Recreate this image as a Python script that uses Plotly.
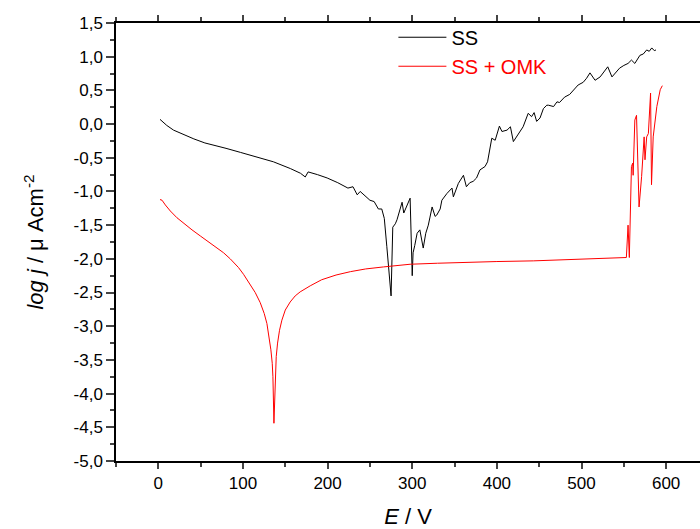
import plotly.graph_objects as go

# SS (black) curve
ss_E = [2, 10, 18, 30, 42, 55, 65, 80, 97, 115, 136, 156, 168, 173.6, 177, 188, 199.5, 212, 224, 230, 235,
        238.5, 244, 250, 255, 260, 264, 267, 270, 273, 275, 277, 280, 282, 285, 288, 290, 294, 297.5, 300,
        301, 303, 305.8, 309, 313, 316, 319, 321, 323.5, 327, 329, 333, 335, 341, 347, 348.6, 354.5, 360.5,
        364, 368, 372, 376, 380, 386, 389, 394, 398, 403, 406, 412, 416, 419.5, 425, 431, 437, 441, 444, 447,
        451, 455, 459, 461, 467, 471, 474, 480, 486, 490, 496, 502, 506, 510, 516, 522, 527, 531, 536, 540,
        545, 550, 555, 559, 563, 569, 573, 577, 580, 583, 586, 588]
ss_logj = [0.07, -0.02, -0.09, -0.16, -0.22, -0.28, -0.31, -0.36, -0.42, -0.48, -0.56, -0.66, -0.73, -0.785, -0.71, -0.75, -0.80, -0.87, -0.95, -0.93, -1.05,
           -1.00, -1.06, -1.13, -1.15, -1.26, -1.26, -1.40, -1.82, -2.20, -2.55, -1.53, -1.48, -1.42, -1.28, -1.16, -1.32, -1.20, -1.10, -2.25,
           -1.91, -1.80, -1.62, -1.57, -1.84, -1.62, -1.50, -1.38, -1.23, -1.37, -1.35, -1.26, -1.13, -1.03, -0.95, -1.08, -0.88, -0.76,
           -0.93, -0.87, -0.85, -0.80, -0.68, -0.63, -0.56, -0.21, -0.24, -0.03, -0.11, -0.09, -0.04, -0.26, -0.16, -0.04, 0.16, 0.11, 0.17, 0.04,
           0.09, 0.23, 0.28, 0.28, 0.26, 0.33, 0.32, 0.40, 0.44, 0.50, 0.58, 0.62, 0.68, 0.76, 0.65, 0.70, 0.78, 0.85, 0.70, 0.76,
           0.83, 0.87, 0.90, 0.95, 0.90, 1.02, 1.04, 1.10, 1.08, 1.13, 1.09, 1.10]

# SS + OMK (red) curve
omk_E = [2, 4.4, 8.3, 14.2, 22, 29.9, 39.8, 49.6, 59.4, 69.3, 77.1, 85, 90.9, 94.8, 100.7, 108.6, 114.5,
         120.4, 125.1, 128.3, 131, 133, 134.6, 135.4, 136.6, 137.3, 138.1, 139.3, 140.9, 143.2, 146, 150,
         155.8, 161.7, 167.6, 173.5, 179.5, 193, 210, 227, 245, 266, 297.5, 330, 364, 400, 443, 480, 522,
         545, 553, 555, 556.5, 559, 560.5, 561, 563, 565, 568, 571, 574, 575, 577, 579, 581.6, 582.7, 584.7,
         589, 593, 595.5]
omk_logj = [-1.12, -1.13, -1.20, -1.29, -1.39, -1.475, -1.57, -1.66, -1.745, -1.83, -1.91, -2.00, -2.07, -2.13, -2.23, -2.38, -2.50,
            -2.65, -2.81, -2.96, -3.15, -3.35, -3.55, -3.75, -4.44, -4.14, -3.75, -3.45, -3.25, -3.06, -2.91, -2.76,
            -2.64, -2.55, -2.49, -2.44, -2.40, -2.31, -2.24, -2.19, -2.15, -2.12, -2.08, -2.065, -2.05, -2.04, -2.03, -2.015, -2.00,
            -1.99, -1.98, -1.50, -1.98, -0.63, -0.58, -0.76, 0.06, 0.13, -1.23, -0.78, -0.19, -0.53, -0.19, -0.14, 0.46, -0.90, -0.19,
            0.26, 0.51, 0.57]

x_ticks = [0, 100, 200, 300, 400, 500, 600]
y_ticks = [1.5, 1.0, 0.5, 0.0, -0.5, -1.0, -1.5, -2.0, -2.5, -3.0, -3.5, -4.0, -4.5, -5.0]
y_ticklabels = ["1,5", "1,0", "0,5", "0,0", "-0,5", "-1,0", "-1,5", "-2,0", "-2,5", "-3,0",
                "-3,5", "-4,0", "-4,5", "-5,0"]

fig = go.Figure()
fig.add_trace(go.Scatter(x=ss_E, y=ss_logj, mode="lines", name="SS",
                         line=dict(color="black", width=1)))
fig.add_trace(go.Scatter(x=omk_E, y=omk_logj, mode="lines",
                         name="<span style='color:red'>SS + OMK</span>",
                         line=dict(color="red", width=1)))

axis_font = dict(family="Liberation Sans, Arial, sans-serif", size=17, color="black")
fig.update_layout(
    width=700, height=529,
    margin=dict(l=116, r=0, t=23, b=68),
    paper_bgcolor="white", plot_bgcolor="white",
    font=dict(family="Liberation Sans, Arial, sans-serif", color="black"),
    showlegend=True,
    legend=dict(x=0.475, y=1.012, xanchor="left", yanchor="top",
                font=dict(size=20, color="black"), bgcolor="rgba(0,0,0,0)",
                tracegroupgap=0, itemwidth=48),
    xaxis=dict(range=[-50, 640], tickvals=x_ticks, ticks="outside", ticklen=6, tickwidth=1.5,
               showline=True, linecolor="black", linewidth=1.5, mirror="ticks", showgrid=False,
               zeroline=False, tickfont=axis_font,
               minor=dict(dtick=50, tick0=0, ticks="outside", ticklen=4, tickwidth=1.5, showgrid=False),
               title=dict(text="<i>E</i> / V", font=dict(size=22), standoff=20)),
    yaxis=dict(range=[-5, 1.5], tickvals=y_ticks, ticktext=y_ticklabels, ticks="outside", ticklen=8,
               tickwidth=1.5, showline=True, linecolor="black", linewidth=1.5, mirror=False,
               showgrid=False, zeroline=False, tickfont=axis_font,
               minor=dict(dtick=0.25, tick0=0, ticks="outside", ticklen=4, tickwidth=1.5, showgrid=False),
               title=dict(text="<i>log j</i> / \u03bc Acm<sup>-2</sup>", font=dict(size=22), standoff=24)),
)

fig.write_html("out.html")
